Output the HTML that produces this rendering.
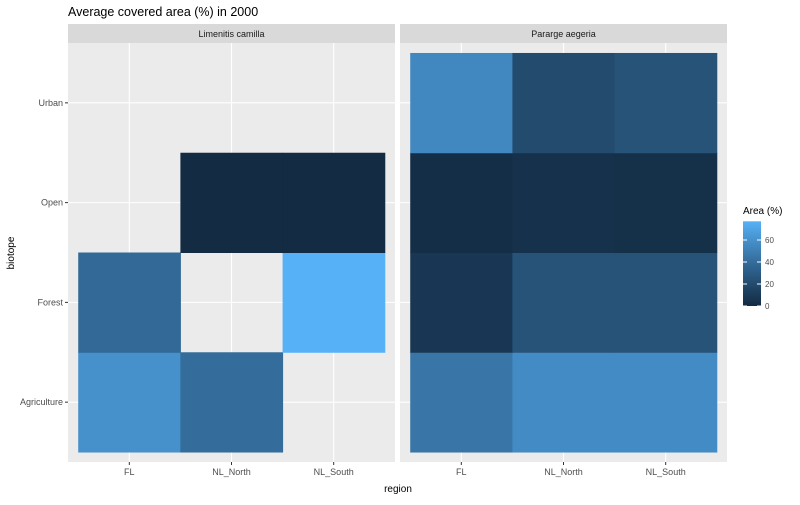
<!DOCTYPE html>
<html><head><meta charset="utf-8"><style>
body{margin:0;background:#fff;font-family:"Liberation Sans",sans-serif}
</style></head><body>
<svg id="c" width="800" height="500" xmlns="http://www.w3.org/2000/svg" font-family="Liberation Sans, sans-serif"></svg>
<script>
const regions=["FL","NL_North","NL_South"];
const biotopes=["Agriculture","Forest","Open","Urban"];
const facets=["Limenitis camilla","Pararge aegeria"];
// values[facet][biotope][region], null = missing
const limenitisValues=[[60,40,null],[38,null,77],[null,0,0],[null,null,null]];
const parargeValues=[[45,57,57],[8,25,25],[2,4,3],[55,20,25]];
const legendTicks=[0,20,40,60];
const legendMax=77;
const svg=document.getElementById('c');
const NS='http://www.w3.org/2000/svg';
function mk(t,a,p){const e=document.createElementNS(NS,t);for(const k in a)e.setAttribute(k,a[k]);(p||svg).appendChild(e);return e;}
function toLab(c){let [r,g,b]=c.map(v=>{v/=255;return v>0.04045?Math.pow((v+0.055)/1.055,2.4):v/12.92;});
 let x=(r*0.4124+g*0.3576+b*0.1805)/0.95047,y=r*0.2126+g*0.7152+b*0.0722,z=(r*0.0193+g*0.1192+b*0.9505)/1.08883;
 const f=t=>t>0.008856?Math.cbrt(t):7.787*t+16/116;x=f(x);y=f(y);z=f(z);return [116*y-16,500*(x-y),200*(y-z)];}
function fromLab(L){let y=(L[0]+16)/116,x=L[1]/500+y,z=y-L[2]/200;
 const fi=t=>t*t*t>0.008856?t*t*t:(t-16/116)/7.787;x=fi(x)*0.95047;y=fi(y);z=fi(z)*1.08883;
 let r=x*3.2406+y*-1.5372+z*-0.4986,g=x*-0.9689+y*1.8758+z*0.0415,b=x*0.0557+y*-0.2040+z*1.0570;
 return [r,g,b].map(v=>{v=v>0.0031308?1.055*Math.pow(v,1/2.4)-0.055:12.92*v;return Math.max(0,Math.min(255,Math.round(v*255)));});}
const LA=toLab([19,43,67]),LB=toLab([86,177,247]);
function col(v){const t=v/legendMax;return 'rgb('+fromLab(LA.map((x,i)=>x+(LB[i]-x)*t)).join(',')+')';}
const panelTop=43,panelBot=462,panelW=327;
const panelX=[68,400];
const bw=panelW/3.2, bh=(panelBot-panelTop)/4.2;
function xs(px,i){return px+(0.1+i)*bw;}
function ys(j){return panelTop+(0.1+(3-j))*bh;}
let tt=mk('text',{x:68,y:16,'font-size':12.5,fill:'#000'});tt.textContent='Average covered area (%) in 2000';

const all=[limenitisValues,parargeValues];
facets.forEach((f,fi)=>{
 const px=panelX[fi];
 const g=mk('g',{});
 mk('rect',{x:px,y:24,width:panelW,height:19,fill:'#d9d9d9'},g);
 const st=mk('text',{x:px+panelW/2,y:37,'font-size':9,fill:'#1a1a1a','text-anchor':'middle'},g);st.textContent=f;
 
 mk('rect',{x:px,y:panelTop,width:panelW,height:panelBot-panelTop,fill:'#ebebeb'},g);
 regions.forEach((r,i)=>{const x=xs(px,i)+bw/2;mk('line',{x1:x,x2:x,y1:panelTop,y2:panelBot,stroke:'#fff','stroke-width':1.1},g);
  mk('line',{x1:x,x2:x,y1:panelBot,y2:panelBot+3,stroke:'#333'},g);
  const l=mk('text',{x:x,y:panelBot+13,'font-size':9,fill:'#4d4d4d','text-anchor':'middle'},g);l.textContent=r;
  });
 biotopes.forEach((b,j)=>{const y=ys(j)+bh/2;mk('line',{x1:px,x2:px+panelW,y1:y,y2:y,stroke:'#fff','stroke-width':1.1},g);});
 all[fi].forEach((row,j)=>row.forEach((v,i)=>{if(v===null)return;
  const r=mk('rect',{x:xs(px,i),y:ys(j),width:bw+0.5,height:bh+0.5,fill:col(v)},g);
  }));
});
biotopes.forEach((b,j)=>{const y=ys(j)+bh/2;mk('line',{x1:65,x2:68,y1:y,y2:y,stroke:'#333'});
 const l=mk('text',{x:63,y:y+3,'font-size':9,fill:'#4d4d4d','text-anchor':'end'});l.textContent=b;
 });
let xl=mk('text',{x:398,y:492,'font-size':10,fill:'#000','text-anchor':'middle'});xl.textContent='region';

let yl=mk('text',{x:14,y:253,'font-size':10,fill:'#000','text-anchor':'middle',transform:'rotate(-90 14 253)'});yl.textContent='biotope';

const lg=mk('g',{});
let lt=mk('text',{x:743,y:214,'font-size':10,fill:'#000'},lg);lt.textContent='Area (%)';
const defs=mk('defs',{});const gr=mk('linearGradient',{id:'lgd',x1:0,y1:1,x2:0,y2:0},defs);
for(let k=0;k<=10;k++)mk('stop',{offset:k/10,'stop-color':col(legendMax*k/10)},gr);
const lb=306,lpu=1.1;
mk('rect',{x:743,y:lb-legendMax*lpu,width:18,height:legendMax*lpu,fill:'url(#lgd)'},lg);
legendTicks.forEach(v=>{const y=lb-v*lpu;
 mk('line',{x1:743,x2:747,y1:y,y2:y,stroke:'#fff'},lg);mk('line',{x1:757,x2:761,y1:y,y2:y,stroke:'#fff'},lg);
 const l=mk('text',{x:765,y:y+3,'font-size':8,fill:'#4d4d4d'},lg);l.textContent=v;
 });
</script>
</body></html>
